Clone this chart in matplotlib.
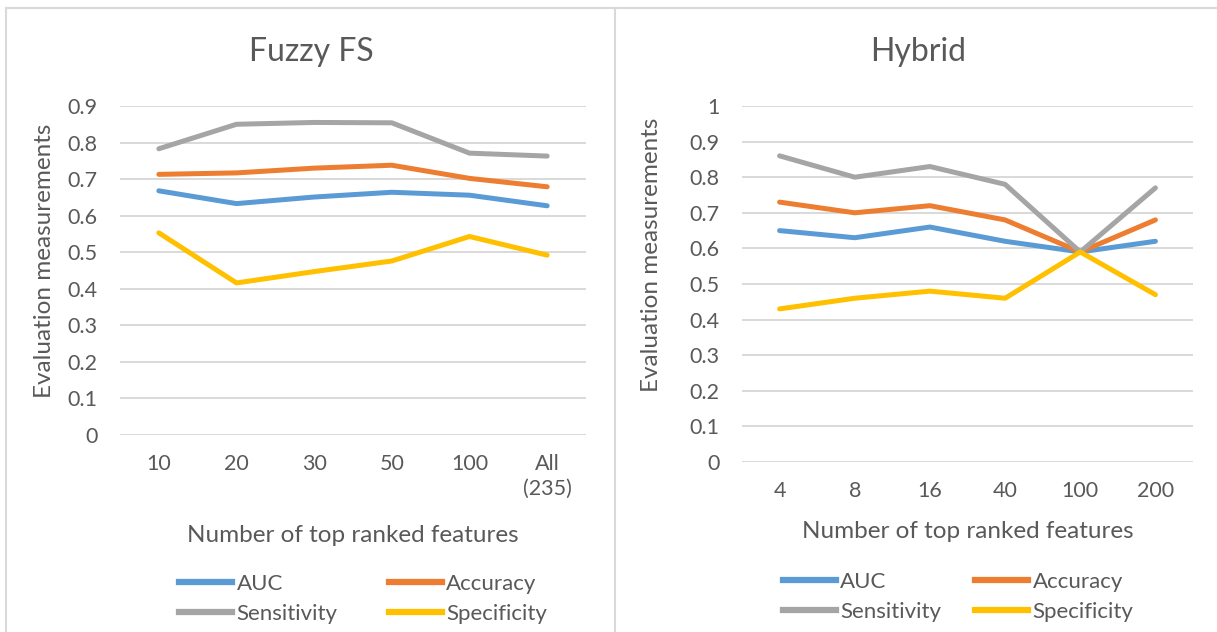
import matplotlib
matplotlib.use("Agg")
import matplotlib.pyplot as plt
from matplotlib.lines import Line2D

plt.rcParams['font.family'] = ['Lato', 'DejaVu Sans']

# Fuzzy FS results
fuzzy_labels = ["10", "20", "30", "50", "100", "All\n(235)"]
fuzzy_auc = [0.668, 0.633, 0.651, 0.664, 0.656, 0.627]
fuzzy_acc = [0.713, 0.717, 0.730, 0.738, 0.702, 0.679]
fuzzy_sens = [0.783, 0.850, 0.855, 0.854, 0.771, 0.763]
fuzzy_spec = [0.553, 0.416, 0.447, 0.476, 0.543, 0.492]

# Hybrid results
hybrid_labels = ["4", "8", "16", "40", "100", "200"]
hybrid_auc = [0.65, 0.63, 0.66, 0.62, 0.59, 0.62]
hybrid_acc = [0.73, 0.70, 0.72, 0.68, 0.59, 0.68]
hybrid_sens = [0.86, 0.80, 0.83, 0.78, 0.59, 0.77]
hybrid_spec = [0.43, 0.46, 0.48, 0.46, 0.59, 0.47]

series_names = ["AUC", "Accuracy", "Sensitivity", "Specificity"]
colors = ["#5B9BD5", "#ED7D31", "#A5A5A5", "#FFC000"]
text_c = "#595959"
grid_c = "#D9D9D9"

W, H = 1217, 632
fig = plt.figure(figsize=(W / 100, H / 100), dpi=100)


def px_axes(x0, x1, ytop, ybot):
    return fig.add_axes([x0 / W, 1 - ybot / H, (x1 - x0) / W, (ybot - ytop) / H])


def draw_panel(ax, title, labels, series, ymax, title_xy, xlabel_y, ylabel_xy, leg_xy, colsp):
    for vals, c in zip(series, colors):
        ax.plot(range(len(labels)), vals, color=c, lw=3.6, solid_capstyle='round',
                solid_joinstyle='round')
    ax.set_xlim(-0.5, len(labels) - 0.5)
    ax.set_ylim(0, ymax)
    ticks = [i / 10 for i in range(int(round(ymax * 10)) + 1)]
    ax.set_yticks(ticks)
    ax.set_yticklabels(["0" if t == 0 else ("1" if t == 1 else f"{t:.1f}") for t in ticks])
    ax.set_xticks(range(len(labels)))
    ax.set_xticklabels(labels, linespacing=1.25, va='top')
    ax.yaxis.grid(True, color=grid_c, lw=1.4)
    ax.set_axisbelow(True)
    for s in ax.spines.values():
        s.set_visible(False)
    ax.tick_params(length=0, labelsize=15.5, colors=text_c, pad=16)
    ax.tick_params(axis='x', pad=14)

    fig.text(title_xy[0] / W, 1 - title_xy[1] / H, title, fontsize=23, color=text_c,
             ha='center', va='center')
    xc = (ax.get_position().x0 + ax.get_position().x1) / 2
    fig.text(xc, 1 - xlabel_y / H, "Number of top ranked features", fontsize=17.5,
             color=text_c, ha='center', va='center')
    fig.text(ylabel_xy[0] / W, 1 - ylabel_xy[1] / H, "Evaluation measurements",
             fontsize=17.5, color=text_c, rotation=90, ha='center', va='center')

    # legend reads row-wise: AUC, Accuracy / Sensitivity, Specificity
    order = [0, 2, 1, 3]
    handles = [Line2D([0], [0], color=colors[i], lw=4.5) for i in order]
    names = [series_names[i] for i in order]
    fig.legend(handles, names, loc='center', bbox_to_anchor=(leg_xy[0] / W, 1 - leg_xy[1] / H),
               ncol=2, frameon=False, fontsize=16, labelcolor=text_c,
               handlelength=2.4, handletextpad=0.2, columnspacing=colsp,
               labelspacing=0.45)


ax1 = px_axes(120, 586, 106, 435)
draw_panel(ax1, "Fuzzy FS", fuzzy_labels, [fuzzy_auc, fuzzy_acc, fuzzy_sens, fuzzy_spec],
           0.9, (311, 52), 536, (45, 261), (363, 599), 2.3)

ax2 = px_axes(742, 1193, 106, 462)
draw_panel(ax2, "Hybrid", hybrid_labels, [hybrid_auc, hybrid_acc, hybrid_sens, hybrid_spec],
           1.0, (918, 52), 531, (651, 255), (958, 597), 1.5)

# chart frames
for x in (6, 614.5):
    fig.add_artist(Line2D([x / W, x / W], [0, 1 - 8 / H], color=grid_c, lw=1.5))
fig.add_artist(Line2D([6 / W, 1], [1 - 8 / H, 1 - 8 / H], color=grid_c, lw=1.5))

fig.savefig("out.png", dpi=100, facecolor="white")
